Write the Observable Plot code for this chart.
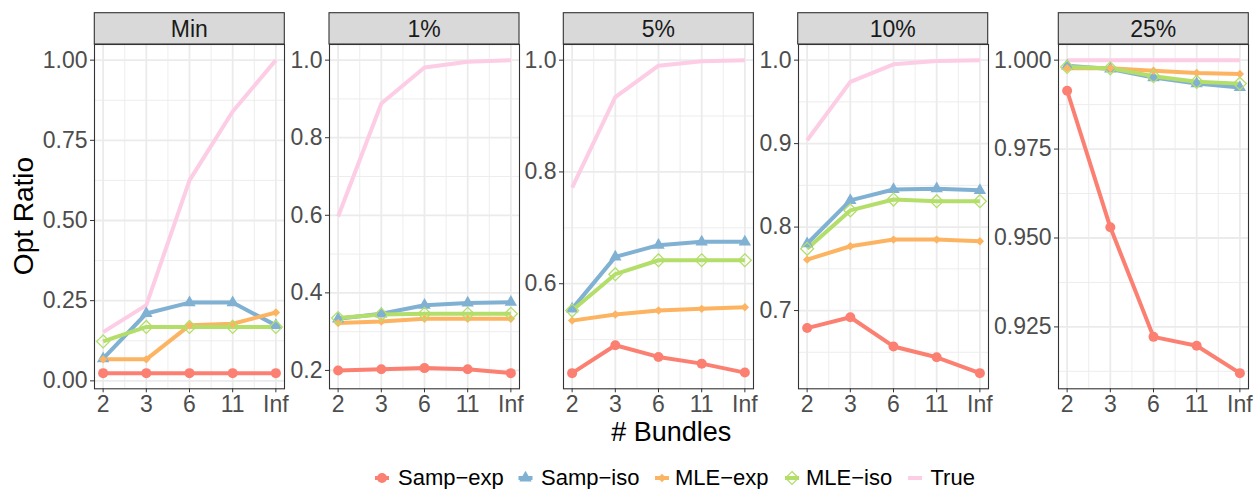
<!DOCTYPE html>
<html><head><meta charset="utf-8">
<script src="https://cdn.jsdelivr.net/npm/d3@7"></script>
<script src="https://cdn.jsdelivr.net/npm/@observablehq/plot@0.6"></script>
<style>
body{margin:0;background:#fff;font-family:"Liberation Sans",Arial,Helvetica,sans-serif;}
#root{position:relative;width:1255px;height:489px;overflow:hidden;background:#fff;}
</style></head><body><div id="root"></div>
<script>
// ---------------- data ----------------
const bundles = ["2", "3", "6", "11", "Inf"];
const panels = ["Min", "1%", "5%", "10%", "25%"];
const seriesNames = ["Samp-exp", "Samp-iso", "MLE-exp", "MLE-iso", "True"];
const seriesLabels = ["Samp\u2212exp", "Samp\u2212iso", "MLE\u2212exp", "MLE\u2212iso", "True"];
const seriesColors = ["#fb8072", "#80b1d3", "#fdb462", "#b3de69", "#fccde5"];

// one row per panel (Min, 1%, 5%, 10%, 25%), values for bundles 2,3,6,11,Inf
const sampExp = [
  [0.024, 0.024, 0.024, 0.024, 0.024],
  [0.200, 0.203, 0.206, 0.203, 0.193],
  [0.440, 0.490, 0.469, 0.457, 0.441],
  [0.679, 0.692, 0.657, 0.644, 0.625],
  [0.9914, 0.9530, 0.9222, 0.9197, 0.9120]
];
const sampIso = [
  [0.069, 0.210, 0.244, 0.244, 0.173],
  [0.333, 0.346, 0.368, 0.374, 0.376],
  [0.555, 0.648, 0.669, 0.675, 0.675],
  [0.780, 0.832, 0.845, 0.846, 0.844],
  [0.9984, 0.9975, 0.9951, 0.9934, 0.9923]
];
const mleExp = [
  [0.067, 0.067, 0.173, 0.178, 0.213],
  [0.322, 0.326, 0.333, 0.333, 0.333],
  [0.534, 0.545, 0.552, 0.555, 0.558],
  [0.761, 0.777, 0.785, 0.785, 0.783],
  [0.9977, 0.9977, 0.9970, 0.9964, 0.9961]
];
const mleIso = [
  [0.123, 0.168, 0.168, 0.168, 0.168],
  [0.335, 0.344, 0.346, 0.346, 0.346],
  [0.552, 0.617, 0.642, 0.642, 0.642],
  [0.774, 0.820, 0.833, 0.831, 0.831],
  [0.9981, 0.9977, 0.9955, 0.9939, 0.9934]
];
const trueRatio = [
  [0.152, 0.236, 0.625, 0.840, 1.000],
  [0.597, 0.888, 0.981, 0.996, 1.000],
  [0.772, 0.934, 0.990, 0.998, 1.000],
  [0.904, 0.974, 0.995, 0.999, 1.000],
  [1.000, 1.000, 1.000, 1.000, 1.000]
];
const seriesValues = [sampExp, sampIso, mleExp, mleIso, trueRatio];

// y tick labels per panel
const yTicksMajor = [
  [0, 0.25, 0.5, 0.75, 1],
  [0.2, 0.4, 0.6, 0.8, 1.0],
  [0.6, 0.8, 1.0],
  [0.7, 0.8, 0.9, 1.0],
  [0.925, 0.95, 0.975, 1.0]
];
const yTicksMinor = [
  [0.125, 0.375, 0.625, 0.875],
  [0.3, 0.5, 0.7, 0.9],
  [0.5, 0.7, 0.9],
  [0.65, 0.75, 0.85, 0.95],
  [0.9125, 0.9375, 0.9625, 0.9875]
];
const yTickDigits = [2, 1, 1, 1, 3];

// ---------------- layout ----------------
const FONT = '"Liberation Sans", Arial, Helvetica, sans-serif';
const panelLeft = [94.3, 329, 563.3, 797.7, 1058.3];
const panelW = 190, panelTop = 44, panelH = 344.3;
const mL = 75, mR = 14, mT = 8, mB = 40;

const root = document.getElementById("root");
const symbolFor = ["circle", "triangle", "diamond2", "diamond2"];
const rFor = [5, 4.6, 3.8, 5.8];

panels.forEach((pname, p) => {
  const rows = [];
  seriesNames.forEach((s, si) => {
    seriesValues[si][p].forEach((v, i) => rows.push({series: s, si, xi: i, y: v}));
  });
  const vals = rows.map(d => d.y);
  const lo = d3.min(vals), hi = d3.max(vals), r = hi - lo;
  const fmt = d => d.toFixed(yTickDigits[p]);

  const dotMarks = [0, 1, 2, 3].map(si => {
    const data = rows.filter(d => d.si === si);
    if (si === 3) {
      return Plot.dot(data, {x: "xi", y: "y", symbol: symbolFor[si], r: rFor[si],
        fill: "none", stroke: seriesColors[si], strokeWidth: 1.3});
    }
    return Plot.dot(data, {x: "xi", y: "y", symbol: symbolFor[si], r: rFor[si],
      fill: seriesColors[si], stroke: "none"});
  });

  const svg = Plot.plot({
    width: panelW + mL + mR,
    height: panelH + mT + mB,
    marginLeft: mL, marginRight: mR, marginTop: mT, marginBottom: mB,
    style: {background: "transparent", fontFamily: FONT, fontSize: "23px", overflow: "visible"},
    x: {domain: [-0.2, 4.2], axis: null, label: null},
    y: {domain: [lo - 0.05 * r, hi + 0.05 * r], axis: null, label: null},
    color: {domain: seriesNames, range: seriesColors},
    marks: [
      Plot.gridX([0.5, 1.5, 2.5, 3.5], {stroke: "#ebebeb", strokeOpacity: 1, strokeWidth: 0.9}),
      Plot.gridY(yTicksMinor[p], {stroke: "#ebebeb", strokeOpacity: 1, strokeWidth: 0.9}),
      Plot.gridX([0, 1, 2, 3, 4], {stroke: "#ebebeb", strokeOpacity: 1, strokeWidth: 1.8}),
      Plot.gridY(yTicksMajor[p], {stroke: "#ebebeb", strokeOpacity: 1, strokeWidth: 1.8}),
      Plot.line(rows, {x: "xi", y: "y", z: "series", stroke: "series", strokeWidth: 4,
        strokeLinecap: "butt", strokeLinejoin: "round"}),
      ...dotMarks,
      Plot.frame({stroke: "#333333", strokeWidth: 1.1}),
      Plot.axisX({ticks: [0, 1, 2, 3, 4], tickFormat: i => bundles[i], tickSize: 4, tickPadding: 3,
        stroke: "#333333", fill: "#4d4d4d", fontSize: 23, label: null}),
      Plot.axisY({ticks: yTicksMajor[p], tickFormat: fmt, tickSize: 4, tickPadding: 3,
        stroke: "#333333", fill: "#4d4d4d", fontSize: 23, label: null})
    ]
  });
  svg.style.position = "absolute";
  svg.style.left = (panelLeft[p] - mL) + "px";
  svg.style.top = (panelTop - mT) + "px";
  svg.style.maxWidth = "none";
  root.appendChild(svg);
});

// ---------------- overlay: strips, titles, legend ----------------
const ov = d3.select(root).append("svg")
  .attr("width", 1255).attr("height", 489)
  .style("position", "absolute").style("left", "0px").style("top", "0px")
  .style("font-family", FONT);

panels.forEach((pname, p) => {
  ov.append("rect").attr("x", panelLeft[p]).attr("y", 12.7)
    .attr("width", panelW).attr("height", panelTop - 12.7)
    .attr("fill", "#d9d9d9").attr("stroke", "#333333").attr("stroke-width", 1.1);
  ov.append("text").attr("x", panelLeft[p] + panelW / 2).attr("y", 36.8)
    .attr("text-anchor", "middle").attr("font-size", 23).attr("fill", "#1a1a1a").text(pname);
});

ov.append("text").attr("transform", "translate(33.3,216) rotate(-90)")
  .attr("text-anchor", "middle").attr("font-size", 28).attr("fill", "#000").text("Opt Ratio");
ov.append("text").attr("x", 671.3).attr("y", 440.5)
  .attr("text-anchor", "middle").attr("font-size", 27).attr("fill", "#000").text("# Bundles");

const legKeyX = [382, 525.5, 662, 792, 915];
const legTextX = [398, 541, 675, 806, 930.5];
const legY = 478, legBase = 484.5;
seriesNames.forEach((s, si) => {
  const g = ov.append("g");
  const cx = legKeyX[si];
  g.append("line").attr("x1", cx - 7).attr("x2", cx + 7).attr("y1", legY).attr("y2", legY)
    .attr("stroke", seriesColors[si]).attr("stroke-width", 4);
  if (si < 4) {
    const sym = [d3.symbolCircle, d3.symbolTriangle, d3.symbolDiamond2, d3.symbolDiamond2][si];
    const rr = rFor[si];
    g.append("path").attr("transform", `translate(${cx},${legY})`)
      .attr("d", d3.symbol(sym, Math.PI * rr * rr)())
      .attr("fill", si === 3 ? "none" : seriesColors[si])
      .attr("stroke", si === 3 ? seriesColors[si] : "none")
      .attr("stroke-width", 1.3);
  }
  g.append("text").attr("x", legTextX[si]).attr("y", legBase)
    .attr("font-size", 22).attr("fill", "#000").text(seriesLabels[si]);
});
</script></body></html>
